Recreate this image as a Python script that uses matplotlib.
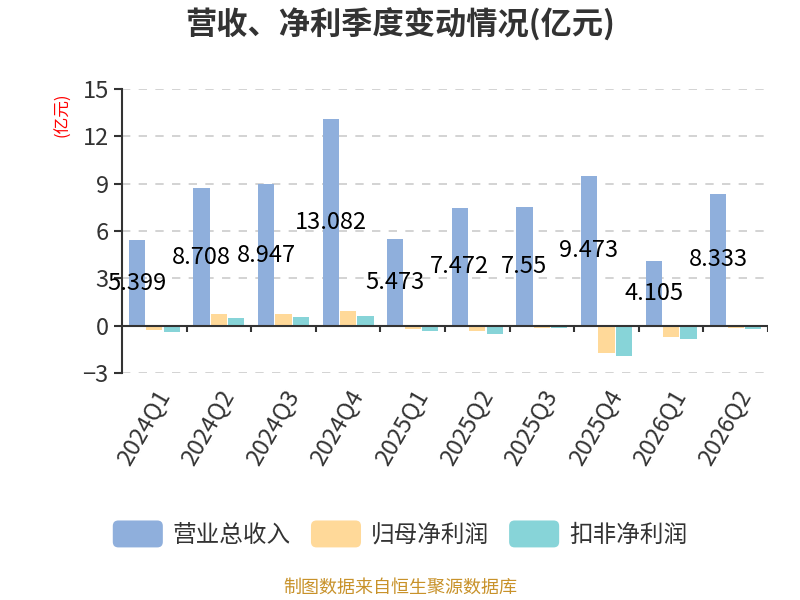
import matplotlib
matplotlib.use('Agg')

import numpy as np
import matplotlib.pyplot as plt
from matplotlib.patches import FancyBboxPatch, Patch
from matplotlib.legend_handler import HandlerPatch

plt.rcParams['font.family'] = ['Noto Sans CJK SC', 'DejaVu Sans']

# quarterly data (亿元)
quarters = ['2024Q1', '2024Q2', '2024Q3', '2024Q4', '2025Q1',
            '2025Q2', '2025Q3', '2025Q4', '2026Q1', '2026Q2']
revenue = [5.399, 8.708, 8.947, 13.082, 5.473, 7.472, 7.55, 9.473, 4.105, 8.333]
net_profit = [-0.25, 0.74, 0.74, 0.91, -0.19, -0.30, -0.13, -1.69, -0.72, -0.13]
net_profit_deducted = [-0.38, 0.49, 0.55, 0.61, -0.30, -0.49, -0.13, -1.90, -0.82, -0.21]

series_names = ['营业总收入', '归母净利润', '扣非净利润']
colors = ['#8FAFDC', '#FFD999', '#87D4D8']


class RoundHandler(HandlerPatch):
    def create_artists(self, legend, orig_handle, xdescent, ydescent,
                       width, height, fontsize, trans):
        h = 19.4
        p = FancyBboxPatch((-xdescent, -ydescent + (height - h) / 2), width, h,
                           boxstyle='round,pad=0,rounding_size=4',
                           facecolor=orig_handle.get_facecolor(),
                           edgecolor='none', transform=trans)
        return [p]


fig = plt.figure(figsize=(8, 6), dpi=100)
ax = fig.add_axes([0.1525, 0.378, 0.8075, 0.474])

x = np.arange(len(quarters))
w = 0.25
step = 0.27
ax.bar(x - step, revenue, w, color=colors[0], zorder=3)
ax.bar(x, net_profit, w, color=colors[1], zorder=3)
ax.bar(x + step, net_profit_deducted, w, color=colors[2], zorder=3)

# value labels at half height of revenue bars
for xi, v in zip(x, revenue):
    ax.text(xi - step, v / 2, f'{v:g}', ha='center', va='center',
            fontsize=17, color='black', zorder=5)

ax.set_xlim(-0.5, len(quarters) - 0.5)
ax.set_ylim(-3, 15)
ax.set_yticks([-3, 0, 3, 6, 9, 12, 15])
ax.tick_params(axis='y', labelsize=17, colors='#333333', length=6, width=1.5)

ax.set_xticks(x)
ax.set_xticklabels(quarters, rotation=60, ha='right', rotation_mode='anchor',
                   fontsize=17, color='#333333')
ax.tick_params(axis='x', length=0, pad=9)

ax.grid(axis='y', linestyle=(0, (5, 5)), color='#CCCCCC', linewidth=1.2, zorder=0)
for s in ['top', 'right', 'bottom']:
    ax.spines[s].set_visible(False)
ax.spines['left'].set_color('#333333')
ax.spines['left'].set_linewidth(1.5)

# zero axis line with category boundary ticks
ax.axhline(0, color='#333333', linewidth=1.5, zorder=4)
ax.vlines(x + 0.5, -0.4, 0, color='#333333', linewidth=1.5, zorder=4)

fig.text(0.079, 0.808, '(亿元)', color='red', rotation=90, fontsize=12,
         ha='center', va='center')

fig.text(0.5, 0.958, '营收、净利季度变动情况(亿元)', ha='center', va='center',
         fontsize=22.5, fontweight='bold', color='#333333')

handles = [Patch(facecolor=c) for c in colors]
fig.legend(handles, series_names, loc='center', bbox_to_anchor=(0.5, 0.108),
           ncol=3, frameon=False, fontsize=17, handlelength=2.12,
           handleheight=1.0, columnspacing=0.85, handletextpad=0.42,
           labelcolor='#333333',
           handler_map={Patch: RoundHandler()})

fig.text(0.5, 0.02, '制图数据来自恒生聚源数据库', ha='center', va='center',
         fontsize=13, color='#C8922A')

fig.savefig('out.png', dpi=100)
